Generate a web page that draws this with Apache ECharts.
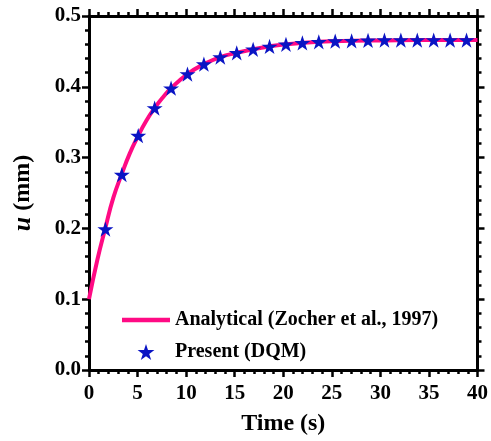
<!DOCTYPE html>
<html>
<head>
<meta charset="utf-8">
<script src="https://cdn.jsdelivr.net/npm/echarts@6/dist/echarts.min.js"></script>
<style>html,body{margin:0;padding:0;background:#fff;}#c{width:491px;height:441px;}</style>
</head>
<body>
<div id="c"></div>
<script>
// Analytical curve
var lineTime = [0, 0.85, 1.69, 2.5, 3.38, 4.2, 5.07, 5.9, 6.76, 7.6, 8.45, 10.14, 11.83, 13.52, 15.21, 16.9, 18.59, 20.28, 23.66, 27.04, 30.42, 33.8, 37.18, 40];
var lineU    = [0.100, 0.155, 0.201, 0.243, 0.277, 0.306, 0.331, 0.352, 0.370, 0.385, 0.398, 0.418, 0.432, 0.442, 0.448, 0.453, 0.457, 0.460, 0.4635, 0.465, 0.4655, 0.466, 0.466, 0.466];
// Present (DQM) points
var dqmTime = [1.69, 3.38, 5.07, 6.76, 8.45, 10.14, 11.83, 13.52, 15.21, 16.9, 18.59, 20.28, 21.97, 23.66, 25.35, 27.04, 28.73, 30.42, 32.11, 33.8, 35.49, 37.18, 38.87];
var dqmU    = [0.199, 0.276, 0.331, 0.370, 0.398, 0.418, 0.432, 0.442, 0.448, 0.453, 0.457, 0.460, 0.462, 0.4635, 0.4645, 0.465, 0.4655, 0.466, 0.466, 0.466, 0.466, 0.466, 0.466];
var xTicks = [0, 5, 10, 15, 20, 25, 30, 35, 40];
var yTicks = [0.0, 0.1, 0.2, 0.3, 0.4, 0.5];
var seriesNames = ['Analytical (Zocher et al., 1997)', 'Present (DQM)'];

var STAR = 'path://M50,0 L61.2,34.5 L97.6,34.5 L68.2,55.9 L79.4,90.5 L50,69.1 L20.6,90.5 L31.8,55.9 L2.4,34.5 L38.8,34.5 Z';
var BAR = 'path://M0,0 L48,0 L48,4.5 L0,4.5 Z';
var FONT = '"Liberation Serif", "Times New Roman", serif';
var PINK = '#ff0a84';
var BLUE = '#0a14c4';

function zip(a, b) { return a.map(function (v, i) { return [v, b[i]]; }); }

var axLine = { show: true, onZero: false, lineStyle: { color: '#000', width: 3 } };
var axTick = { show: true, inside: false, length: 7, lineStyle: { color: '#000', width: 2.5 } };
var minTick = { show: true, splitNumber: 5, length: 4, lineStyle: { color: '#000', width: 2.5 } };

var chart = echarts.init(document.getElementById('c'), null, { renderer: 'canvas' });
chart.setOption({
  animation: false,
  backgroundColor: '#fff',
  grid: { left: 89, right: 13, top: 16, bottom: 70, containLabel: false },
  legend: {
    orient: 'vertical',
    left: 117, top: 305,
    itemWidth: 48, itemHeight: 16, itemGap: 12,
    textStyle: { fontFamily: FONT, fontWeight: 'bold', fontSize: 20, color: '#000' },
    data: [
      { name: seriesNames[0], icon: BAR, itemStyle: { color: PINK } },
      { name: seriesNames[1], icon: STAR, itemStyle: { color: BLUE, opacity: 1 } }
    ]
  },
  xAxis: [{
    type: 'value', min: xTicks[0], max: xTicks[xTicks.length - 1], interval: 5,
    axisLine: axLine, axisTick: axTick, minorTick: minTick, splitLine: { show: false },
    axisLabel: { margin: 13, fontFamily: FONT, fontWeight: 'bold', fontSize: 21, color: '#000' },
    name: 'Time (s)', nameLocation: 'middle', nameGap: 42,
    nameTextStyle: { fontFamily: FONT, fontWeight: 'bold', fontSize: 24, color: '#000' }
  }, {
    type: 'value', position: 'top', min: xTicks[0], max: xTicks[xTicks.length - 1], interval: 5,
    axisLine: axLine, axisTick: axTick, minorTick: minTick, splitLine: { show: false },
    axisLabel: { show: false }
  }],
  yAxis: [{
    type: 'value', min: yTicks[0], max: yTicks[yTicks.length - 1], interval: 0.1,
    axisLine: axLine, axisTick: axTick, minorTick: minTick, splitLine: { show: false },
    axisLabel: { margin: 8, fontFamily: FONT, fontWeight: 'bold', fontSize: 21, color: '#000',
      formatter: function (v) { return v.toFixed(1); } },
    name: '{i|u} (mm)', nameLocation: 'middle', nameGap: 53,
    nameTextStyle: { fontFamily: FONT, fontWeight: 'bold', fontSize: 24, color: '#000',
      rich: { i: { fontFamily: FONT, fontWeight: 'bold', fontStyle: 'italic', fontSize: 26, color: '#000' } } }
  }, {
    type: 'value', position: 'right', min: yTicks[0], max: yTicks[yTicks.length - 1], interval: 0.1,
    axisLine: axLine, axisTick: axTick, minorTick: minTick, splitLine: { show: false },
    axisLabel: { show: false }
  }],
  series: [{
    name: seriesNames[0], type: 'line', smooth: true, symbol: 'none',
    xAxisIndex: 0, yAxisIndex: 0,
    lineStyle: { color: PINK, width: 4 }, itemStyle: { color: PINK },
    data: zip(lineTime, lineU), z: 2
  }, {
    name: seriesNames[1], type: 'scatter', symbol: STAR, symbolSize: 16, symbolKeepAspect: true,
    xAxisIndex: 0, yAxisIndex: 0,
    itemStyle: { color: BLUE, opacity: 1 },
    data: zip(dqmTime, dqmU), z: 3
  }]
});
</script>
</body>
</html>
